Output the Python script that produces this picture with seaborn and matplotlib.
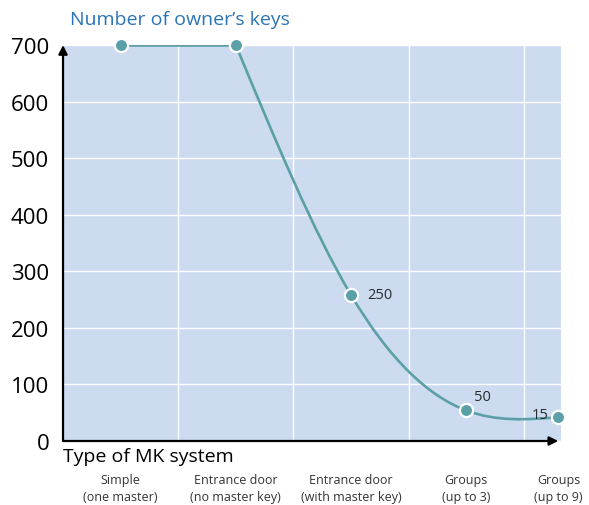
import numpy as np
import pandas as pd
import seaborn as sns
from matplotlib import pyplot as plt
from matplotlib.path import Path
from matplotlib.patches import PathPatch

# type of master key system vs number of owner's keys
systems = ["Simple\n(one master)", "Entrance door\n(no master key)",
           "Entrance door\n(with master key)", "Groups\n(up to 3)", "Groups\n(up to 9)"]
x_pos = [0, 1, 2, 3, 3.8]
keys = [700, 700, 258, 54, 42]
key_labels = ["", "", "250", "50", "15"]

teal = "#5b9fa7"
bg = "#cddbf1"
blue = "#2b74b6"

df = pd.DataFrame({"x": x_pos, "keys": keys, "label": key_labels})

sns.set_style("white", {"axes.facecolor": bg})
plt.rcParams["font.family"] = ["Open Sans", "DejaVu Sans"]

fig = plt.figure(figsize=(5.89, 5.06), dpi=100)
ax = fig.add_axes([0.107, 0.1265, 0.845, 0.7825])

# straight part between the first two systems
sns.lineplot(data=df.iloc[:2], x="x", y="keys", color=teal, lw=1.9, ax=ax, zorder=3)


# smooth part - natural cubic spline drawn as bezier segments
def spline_path(xs, ys):
    xs = np.asarray(xs, float)
    ys = np.asarray(ys, float)
    n = len(xs)
    h = np.diff(xs)
    d = np.diff(ys) / h
    A = np.zeros((n, n))
    b = np.zeros(n)
    A[0, 0] = A[-1, -1] = 1
    for i in range(1, n - 1):
        A[i, i - 1] = h[i - 1]
        A[i, i] = 2 * (h[i - 1] + h[i])
        A[i, i + 1] = h[i]
        b[i] = 6 * (d[i] - d[i - 1])
    M = np.linalg.solve(A, b)
    verts = [(xs[0], ys[0])]
    codes = [Path.MOVETO]
    for i in range(n - 1):
        m0 = d[i] - h[i] * (2 * M[i] + M[i + 1]) / 6
        m1 = d[i] + h[i] * (M[i] + 2 * M[i + 1]) / 6
        verts += [(xs[i] + h[i] / 3, ys[i] + h[i] / 3 * m0),
                  (xs[i + 1] - h[i] / 3, ys[i + 1] - h[i] / 3 * m1),
                  (xs[i + 1], ys[i + 1])]
        codes += [Path.CURVE4] * 3
    return Path(verts, codes)


ax.add_patch(PathPatch(spline_path(x_pos[1:], keys[1:]), facecolor="none",
                       edgecolor=teal, lw=1.9, zorder=3))

sns.scatterplot(data=df, x="x", y="keys", s=90, color=teal, edgecolor="white",
                linewidth=1.6, zorder=5, clip_on=False, ax=ax)

# value labels
offsets = {2: (16, 1, "left"), 3: (8, 14, "left"), 4: (-10, 3, "right")}
for i, (dx, dy, ha) in offsets.items():
    ax.annotate(key_labels[i], (x_pos[i], keys[i]), xytext=(dx, dy),
                textcoords="offset pixels", ha=ha, va="center",
                fontsize=10.5, color="#2a2a2a", zorder=6)

ax.set_xlim(-0.5, 3.82)
ax.set_ylim(0, 700)
ax.set_yticks(range(0, 701, 100))
ax.set_xticks(x_pos)
ax.set_xticklabels(systems, fontsize=9, color="#333333", linespacing=1.45)
ax.set_xticks(np.arange(0, 3.6, 0.5), minor=True)
ax.tick_params(axis="x", which="both", length=0, pad=23)
ax.tick_params(axis="y", length=0, pad=10, labelsize=16, labelcolor="black")
ax.grid(axis="y", which="major", color="white", lw=1.0)
ax.grid(axis="x", which="minor", color="white", lw=1.0)
ax.set_axisbelow(True)
for s in ax.spines.values():
    s.set_visible(False)

ax.set_xlabel("Type of MK system", fontsize=14, color="black", ha="left")
ax.xaxis.set_label_coords(0.0, -0.015)
ax.xaxis.label.set_va("top")
ax.set_ylabel("")

# axis arrows
arrow = dict(arrowstyle="-|>", color="black", lw=1.6, mutation_scale=13, shrinkA=0, shrinkB=0)
ax.annotate("", xy=(0, 1.0), xytext=(0, 0), xycoords="axes fraction", arrowprops=arrow)
ax.annotate("", xy=(0.995, 0), xytext=(0, 0), xycoords="axes fraction", arrowprops=arrow)

fig.text(70 / 589, 1 - 20 / 506, "Number of owner\u2019s keys", fontsize=14,
         color=blue, va="center", ha="left")

fig.savefig("out.png", dpi=100)
